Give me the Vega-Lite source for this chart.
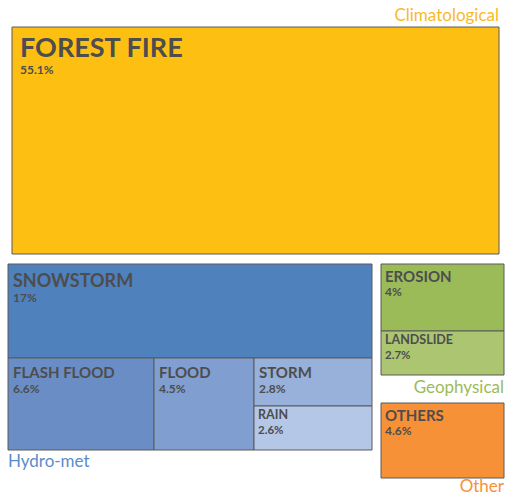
{
  "$schema": "https://vega.github.io/schema/vega-lite/v6.json",
  "width": 505,
  "height": 497,
  "padding": 0,
  "autosize": {"type": "none"},
  "background": "white",
  "config": {"view": {"stroke": null}, "text": {"font": "Lato", "color": "#4d4d4d", "fontWeight": "bold", "align": "left", "baseline": "alphabetic"}},
  "data": {
    "values": [
      {"name": "FOREST FIRE", "group": "Climatological", "share": 0.551, "x0": 12, "x1": 499, "y0": 27, "y1": 254},
      {"name": "SNOWSTORM", "group": "Hydro-met", "share": 0.17, "x0": 8, "x1": 372, "y0": 264, "y1": 358},
      {"name": "FLASH FLOOD", "group": "Hydro-met", "share": 0.066, "x0": 8, "x1": 154, "y0": 358, "y1": 450},
      {"name": "FLOOD", "group": "Hydro-met", "share": 0.045, "x0": 154, "x1": 254, "y0": 358, "y1": 450},
      {"name": "STORM", "group": "Hydro-met", "share": 0.028, "x0": 254, "x1": 372, "y0": 358, "y1": 406},
      {"name": "RAIN", "group": "Hydro-met", "share": 0.026, "x0": 254, "x1": 372, "y0": 406, "y1": 450},
      {"name": "EROSION", "group": "Geophysical", "share": 0.04, "x0": 381, "x1": 504, "y0": 264, "y1": 331},
      {"name": "LANDSLIDE", "group": "Geophysical", "share": 0.027, "x0": 381, "x1": 504, "y0": 331, "y1": 375},
      {"name": "OTHERS", "group": "Other", "share": 0.046, "x0": 381, "x1": 504, "y0": 403, "y1": 478}
    ]
  },
  "encoding": {
    "x": {"field": "x0", "type": "quantitative", "scale": {"domain": [0, 505], "nice": false, "zero": false}, "axis": null},
    "y": {"field": "y0", "type": "quantitative", "scale": {"domain": [0, 497], "nice": false, "zero": false, "reverse": true}, "axis": null}
  },
  "layer": [
    {
      "mark": {"type": "rect", "stroke": "#5a5a5a", "strokeWidth": 1},
      "encoding": {
        "x2": {"field": "x1"},
        "y2": {"field": "y1"},
        "fill": {
          "field": "name", "type": "nominal", "legend": null,
          "scale": {
            "domain": ["FOREST FIRE", "SNOWSTORM", "FLASH FLOOD", "FLOOD", "STORM", "RAIN", "EROSION", "LANDSLIDE", "OTHERS"],
            "range": ["#FDBF11", "#4F81BD", "#6A8DC6", "#809FD0", "#98B1DA", "#B4C7E7", "#9BBB59", "#ABC570", "#F79138"]
          }
        }
      }
    },
    {
      "transform": [{"filter": {"field": "name", "equal": "FOREST FIRE"}}],
      "mark": {"type": "text", "fontSize": 27, "dx": 8, "dy": 30},
      "encoding": {"text": {"field": "name"}}
    },
    {
      "transform": [{"filter": {"field": "name", "equal": "FOREST FIRE"}}],
      "mark": {"type": "text", "fontSize": 12, "dx": 8, "dy": 47},
      "encoding": {"text": {"field": "share", "format": ".1~%"}}
    },
    {
      "transform": [{"filter": {"field": "name", "equal": "SNOWSTORM"}}],
      "mark": {"type": "text", "fontSize": 18, "dx": 5, "dy": 23},
      "encoding": {"text": {"field": "name"}}
    },
    {
      "transform": [{"filter": {"field": "name", "equal": "SNOWSTORM"}}],
      "mark": {"type": "text", "fontSize": 12, "dx": 5, "dy": 38},
      "encoding": {"text": {"field": "share", "format": ".1~%"}}
    },
    {
      "transform": [{"filter": {"field": "name", "oneOf": ["FLASH FLOOD", "FLOOD", "STORM"]}}],
      "mark": {"type": "text", "fontSize": 15, "dx": 5, "dy": 20},
      "encoding": {"text": {"field": "name"}}
    },
    {
      "transform": [{"filter": {"field": "name", "oneOf": ["FLASH FLOOD", "FLOOD", "STORM"]}}],
      "mark": {"type": "text", "fontSize": 12, "dx": 5, "dy": 35},
      "encoding": {"text": {"field": "share", "format": ".1~%"}}
    },
    {
      "transform": [{"filter": {"field": "name", "oneOf": ["EROSION", "OTHERS"]}}],
      "mark": {"type": "text", "fontSize": 15, "dx": 4, "dy": 17.5},
      "encoding": {"text": {"field": "name"}}
    },
    {
      "transform": [{"filter": {"field": "name", "oneOf": ["EROSION", "OTHERS"]}}],
      "mark": {"type": "text", "fontSize": 12, "dx": 4, "dy": 32},
      "encoding": {"text": {"field": "share", "format": ".1~%"}}
    },
    {
      "transform": [{"filter": {"field": "name", "oneOf": ["RAIN", "LANDSLIDE"]}}],
      "mark": {"type": "text", "fontSize": 12.5, "dx": 4, "dy": 13},
      "encoding": {"text": {"field": "name"}}
    },
    {
      "transform": [{"filter": {"field": "name", "oneOf": ["RAIN", "LANDSLIDE"]}}],
      "mark": {"type": "text", "fontSize": 11.5, "dx": 4, "dy": 28},
      "encoding": {"text": {"field": "share", "format": ".1~%"}}
    },
    {
      "transform": [
        {"aggregate": [{"op": "min", "field": "x0", "as": "gx0"}, {"op": "max", "field": "x1", "as": "gx1"}, {"op": "min", "field": "y0", "as": "gy0"}, {"op": "max", "field": "y1", "as": "gy1"}], "groupby": ["group"]},
        {"filter": {"field": "group", "equal": "Climatological"}}
      ],
      "mark": {"type": "text", "fontSize": 17, "fontWeight": "normal", "align": "right", "dy": -6},
      "encoding": {
        "x": {"field": "gx1", "type": "quantitative"},
        "y": {"field": "gy0", "type": "quantitative"},
        "text": {"field": "group"},
        "color": {"value": "#F9B927"}
      }
    },
    {
      "transform": [
        {"aggregate": [{"op": "min", "field": "x0", "as": "gx0"}, {"op": "max", "field": "x1", "as": "gx1"}, {"op": "min", "field": "y0", "as": "gy0"}, {"op": "max", "field": "y1", "as": "gy1"}], "groupby": ["group"]},
        {"filter": {"field": "group", "equal": "Hydro-met"}}
      ],
      "mark": {"type": "text", "fontSize": 17, "fontWeight": "normal", "align": "left", "dy": 17},
      "encoding": {
        "x": {"field": "gx0", "type": "quantitative"},
        "y": {"field": "gy1", "type": "quantitative"},
        "text": {"field": "group"},
        "color": {"value": "#5B8BC9"}
      }
    },
    {
      "transform": [
        {"aggregate": [{"op": "min", "field": "x0", "as": "gx0"}, {"op": "max", "field": "x1", "as": "gx1"}, {"op": "min", "field": "y0", "as": "gy0"}, {"op": "max", "field": "y1", "as": "gy1"}], "groupby": ["group"]},
        {"filter": {"field": "group", "equal": "Geophysical"}}
      ],
      "mark": {"type": "text", "fontSize": 17, "fontWeight": "normal", "align": "right", "dy": 18, "color": "#9BBB59"},
      "encoding": {
        "x": {"field": "gx1", "type": "quantitative"},
        "y": {"field": "gy1", "type": "quantitative"},
        "text": {"field": "group"}
      }
    },
    {
      "transform": [
        {"aggregate": [{"op": "min", "field": "x0", "as": "gx0"}, {"op": "max", "field": "x1", "as": "gx1"}, {"op": "min", "field": "y0", "as": "gy0"}, {"op": "max", "field": "y1", "as": "gy1"}], "groupby": ["group"]},
        {"filter": {"field": "group", "equal": "Other"}}
      ],
      "mark": {"type": "text", "fontSize": 17, "fontWeight": "normal", "align": "right", "dy": 14, "color": "#F79138"},
      "encoding": {
        "x": {"field": "gx1", "type": "quantitative"},
        "y": {"field": "gy1", "type": "quantitative"},
        "text": {"field": "group"}
      }
    }
  ]
}
